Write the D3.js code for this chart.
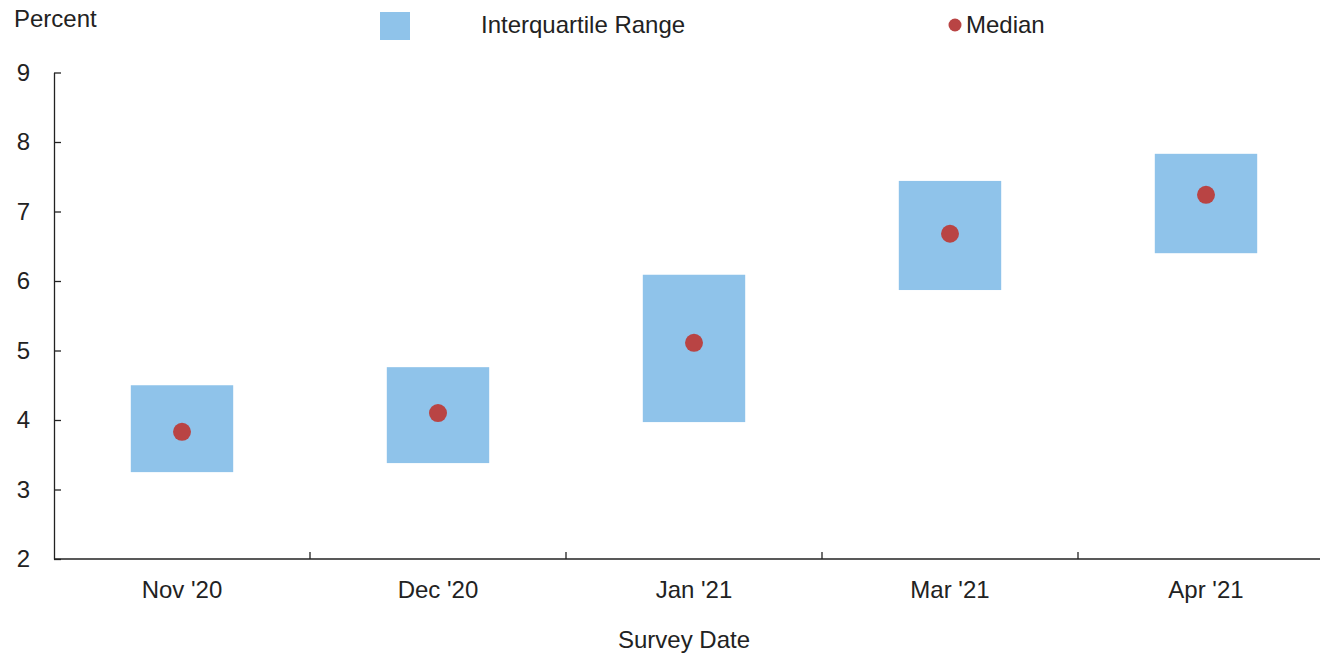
<!DOCTYPE html>
<html>
<head>
<meta charset="utf-8">
<script src="https://d3js.org/d3.v7.min.js"></script>
<style>
  body { margin: 0; background: #fff; }
  text { font-family: "Liberation Sans", Arial, sans-serif; fill: #222; }
</style>
</head>
<body>
<div class="chart"></div>
<script>
var categories = ["Nov '20", "Dec '20", "Jan '21", "Mar '21", "Apr '21"];
var q1 = [3.25, 3.38, 3.97, 5.87, 6.40];
var q3 = [4.50, 4.76, 6.09, 7.44, 7.83];
var median = [3.83, 4.10, 5.11, 6.68, 7.24];
var yTicks = [2, 3, 4, 5, 6, 7, 8, 9];

var svgWidth = 1320;
var svgHeight = 653;

var margin = { top: 72.5, right: -14, bottom: 94, left: 54 };
var width = svgWidth - margin.left - margin.right;
var height = svgHeight - margin.top - margin.bottom;

var svg = d3.select(".chart")
  .append("svg")
  .attr("width", svgWidth)
  .attr("height", svgHeight);

var chartGroup = svg.append("g")
  .attr("transform", `translate(${margin.left}, ${margin.top})`);

var data = categories.map(function(c, i) {
  return { cat: c, q1: q1[i], q3: q3[i], median: median[i] };
});

// scales
var xScale = d3.scaleBand()
  .domain(categories)
  .range([0, width]);

var yScale = d3.scaleLinear()
  .domain([2, 9])
  .range([height, 0]);

// boxes
var boxW = xScale.bandwidth() * 0.4;
chartGroup.selectAll("rect.iqr")
  .data(data)
  .enter()
  .append("rect")
  .attr("class", "iqr")
  .attr("x", d => xScale(d.cat) + xScale.bandwidth() / 2 - boxW / 2)
  .attr("width", boxW)
  .attr("y", d => yScale(d.q3))
  .attr("height", d => yScale(d.q1) - yScale(d.q3))
  .attr("fill", "#8fc3ea");

// medians
chartGroup.selectAll("circle.median")
  .data(data)
  .enter()
  .append("circle")
  .attr("class", "median")
  .attr("cx", d => xScale(d.cat) + xScale.bandwidth() / 2)
  .attr("cy", d => yScale(d.median))
  .attr("r", 9)
  .attr("fill", "#b94444");

// axes
var leftAxis = d3.axisLeft(yScale)
  .tickValues(yTicks)
  .tickFormat(d3.format("d"))
  .tickSizeInner(-7)
  .tickSizeOuter(0)
  .tickPadding(24);

var yAxisG = chartGroup.append("g").call(leftAxis);
yAxisG.select(".domain").attr("stroke", "#222").attr("stroke-width", 1.3);
yAxisG.selectAll(".tick line").attr("stroke", "#222").attr("stroke-width", 1.3);
yAxisG.selectAll(".tick text")
  .style("font-size", "24px")
  .attr("fill", "#222");

// x axis: ticks between bands
var xAxisG = chartGroup.append("g")
  .attr("transform", `translate(0, ${height})`);
xAxisG.append("line")
  .attr("x1", 0).attr("x2", width)
  .attr("stroke", "#222").attr("stroke-width", 1.3);
xAxisG.selectAll("line.sep")
  .data(categories.slice(1))
  .enter()
  .append("line")
  .attr("class", "sep")
  .attr("x1", d => xScale(d)).attr("x2", d => xScale(d))
  .attr("y1", 0).attr("y2", -7)
  .attr("stroke", "#222").attr("stroke-width", 1.3);
xAxisG.selectAll("text.xl")
  .data(categories)
  .enter()
  .append("text")
  .attr("class", "xl")
  .attr("x", d => xScale(d) + xScale.bandwidth() / 2)
  .attr("y", 38.5)
  .attr("text-anchor", "middle")
  .style("font-size", "24px")
  .text(d => d);

// axis titles
svg.append("text")
  .attr("x", 14)
  .attr("y", 27)
  .style("font-size", "24px")
  .text("Percent");

svg.append("text")
  .attr("x", 684)
  .attr("y", 648)
  .attr("text-anchor", "middle")
  .style("font-size", "24px")
  .text("Survey Date");

// legend
svg.append("rect")
  .attr("x", 380).attr("y", 12)
  .attr("width", 30).attr("height", 28)
  .attr("fill", "#8fc3ea");
svg.append("text")
  .attr("x", 481).attr("y", 33)
  .style("font-size", "24px")
  .text("Interquartile Range");
svg.append("circle")
  .attr("cx", 955).attr("cy", 25).attr("r", 6.5)
  .attr("fill", "#b94444");
svg.append("text")
  .attr("x", 966).attr("y", 33)
  .style("font-size", "24px")
  .text("Median");
</script>
</body>
</html>
